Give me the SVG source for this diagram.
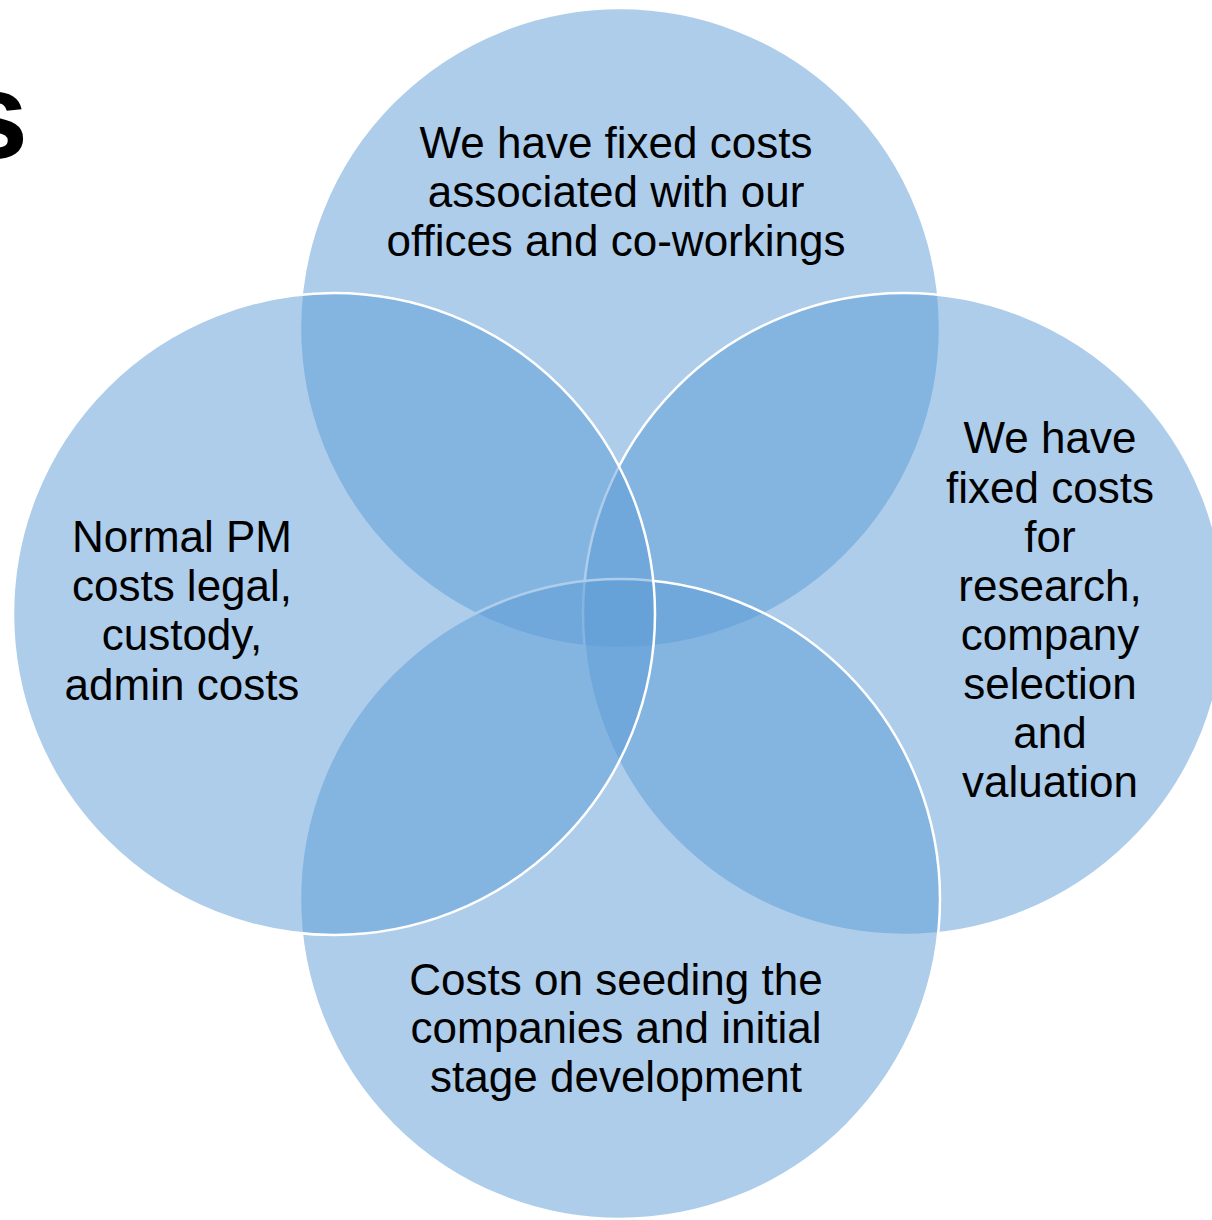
<svg xmlns="http://www.w3.org/2000/svg" width="1212" height="1220" viewBox="0 0 1212 1220">
<style>
.c{fill:#5B9BD5;fill-opacity:0.5;stroke:#FFFFFF;stroke-width:2.5}
.t{font-family:"Liberation Sans",Arial,sans-serif;font-size:44px;fill:#000;text-anchor:middle}
</style>
<rect width="1212" height="1220" fill="#FFFFFF"/>
<text x="28" y="158" font-family="Liberation Sans, Arial, sans-serif" font-size="122" font-weight="bold" text-anchor="end">s</text>
<g id="top"><circle class="c" cx="620" cy="328" r="320"/></g>
<g id="right"><circle class="c" cx="904" cy="614" r="321"/></g>
<g id="bottom"><circle class="c" cx="620" cy="899" r="320"/></g>
<g id="left"><circle class="c" cx="334" cy="614" r="321"/></g>
<g id="connectors"></g>
<g id="labels">
<text class="t" x="616" y="158"><tspan x="616">We have fixed costs</tspan><tspan x="616" y="207">associated with our</tspan><tspan x="616" y="256">offices and co-workings</tspan></text>
<text class="t" x="182" y="552"><tspan x="182">Normal PM</tspan><tspan x="182" y="601">costs legal,</tspan><tspan x="182" y="650">custody,</tspan><tspan x="182" y="700">admin costs</tspan></text>
<text class="t" x="1050" y="453"><tspan x="1050">We have</tspan><tspan x="1050" y="503">fixed costs</tspan><tspan x="1050" y="552">for</tspan><tspan x="1050" y="601">research,</tspan><tspan x="1050" y="650">company</tspan><tspan x="1050" y="699">selection</tspan><tspan x="1050" y="748">and</tspan><tspan x="1050" y="797">valuation</tspan></text>
<text class="t" x="616" y="995"><tspan x="616">Costs on seeding the</tspan><tspan x="616" y="1043">companies and initial</tspan><tspan x="616" y="1092">stage development</tspan></text>
</g>
</svg>
